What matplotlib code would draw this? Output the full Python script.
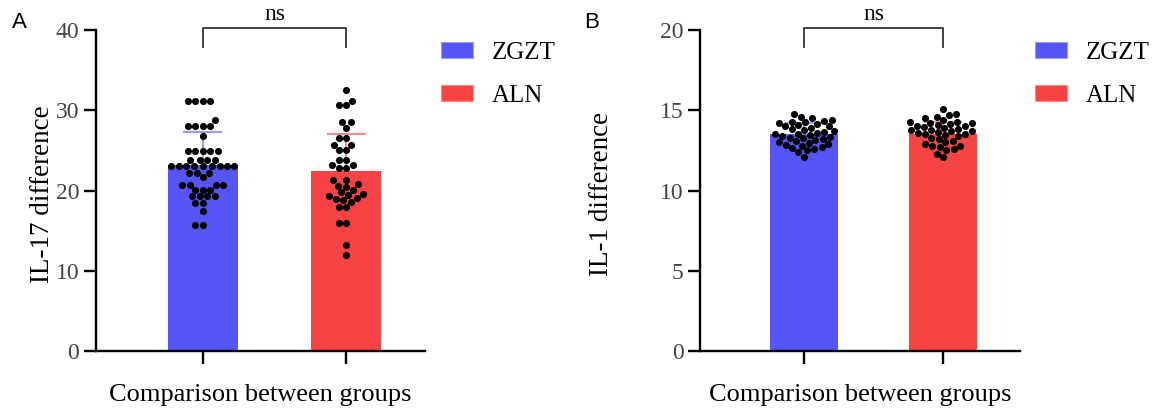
import numpy as np
import matplotlib
matplotlib.use("Agg")
import matplotlib.pyplot as plt
import seaborn as sns
from matplotlib.patches import Patch

groups = ["ZGZT", "ALN"]
colors = ["#5656F6", "#F74343"]
err_colors = ["#9A9AFA", "#FA8A8A"]

# panel A: IL-17 difference
il17_zgzt = [31.2, 31.2, 31.2, 31.2, 28.8, 28.1, 28.1, 28.1, 28.1, 26.8,
             24.9, 24.9, 24.9, 24.9, 24.9, 23.8, 23.8, 23.8, 23.8,
             23.0, 23.0, 23.0, 23.0, 23.0, 23.0, 23.0, 23.0, 23.0,
             22.2, 22.2, 22.2, 21.7, 20.7, 20.7, 20.7, 20.7, 20.1, 20.1, 20.1,
             19.3, 19.3, 19.3, 19.3, 18.5, 18.5, 17.4, 15.7, 15.7]
il17_aln = [32.5, 31.1, 30.6, 30.6, 28.5, 28.5, 27.8, 26.5, 26.5, 25.7, 25.7,
            25.0, 25.0, 23.8, 23.8, 23.2, 23.2, 22.8, 22.8, 21.3, 21.3,
            20.8, 20.6, 20.4, 20.1, 19.8, 19.6, 19.5, 19.3, 19.1, 19.0, 18.8, 18.6,
            18.0, 17.9, 15.9, 15.9, 13.2, 12.0]
il17_mean = [23.2, 22.4]
il17_sd = [4.1, 4.7]

# panel B: IL-1 difference
il1_zgzt = [14.8, 14.6, 14.5, 14.4, 14.35, 14.3, 14.25, 14.2, 14.15, 14.1,
            14.0, 14.0, 13.9, 13.85, 13.8, 13.7, 13.65, 13.6, 13.55, 13.5,
            13.45, 13.4, 13.35, 13.3, 13.25, 13.2, 13.15, 13.1, 13.0, 12.95,
            12.9, 12.85, 12.8, 12.7, 12.65, 12.6, 12.5, 12.4, 12.1]
il1_aln = [15.1, 14.8, 14.7, 14.6, 14.5, 14.4, 14.3, 14.25, 14.2, 14.2,
           14.15, 14.1, 14.05, 14.0, 13.95, 13.9, 13.85, 13.8, 13.75, 13.7,
           13.7, 13.65, 13.6, 13.55, 13.5, 13.45, 13.4, 13.3, 13.2, 13.1,
           13.0, 12.9, 12.8, 12.75, 12.7, 12.6, 12.5, 12.3, 12.1]
il1_mean = [13.5, 13.5]
il1_sd = [0.7, 0.8]

plt.rcParams["font.family"] = ["Liberation Serif", "DejaVu Serif"]

fig = plt.figure(figsize=(11.63, 4.12), dpi=100)


def draw_panel(ax, vals_a, vals_b, means, sds, ylim, yticks, ylabel, bracket, label_x):
    x = np.arange(len(groups))
    ax.bar(x, means, width=0.49, color=colors, zorder=1)
    for i in x:
        ax.plot([i, i], [means[i], means[i] + sds[i]], color=err_colors[i], lw=1.5, zorder=2)
        ax.plot([i - 0.13, i + 0.13], [means[i] + sds[i]] * 2, color=err_colors[i], lw=1.5, zorder=2)

    labels = [groups[0]] * len(vals_a) + [groups[1]] * len(vals_b)
    sns.swarmplot(x=labels, y=list(vals_a) + list(vals_b), order=groups, ax=ax,
                  color="black", size=5.1, zorder=3, warn_thresh=1.0)

    ax.set_xlim(-0.745, 1.55)
    ax.set_ylim(*ylim)
    ax.set_yticks(yticks)
    ax.set_xticks(x)
    ax.set_xticklabels([])
    for s in ["top", "right"]:
        ax.spines[s].set_visible(False)
    for s in ["left", "bottom"]:
        ax.spines[s].set_linewidth(1.7)
    ax.tick_params(axis="both", length=9, width=1.7, labelsize=17, labelcolor="#444444", pad=3)
    ax.set_ylabel(ylabel, fontsize=19.5)
    ax.yaxis.set_label_coords(label_x, 0.49)
    ax.set_xlabel("Comparison between groups", fontsize=19, labelpad=12)

    lo, hi = bracket
    ax.plot([0, 0, 1, 1], [lo, hi, hi, lo], color="#333333", lw=1.3, clip_on=False)
    ax.text(0.5, hi + (ylim[1] - ylim[0]) * 0.012, "ns", ha="center", va="bottom", fontsize=17)


ax_a = fig.add_axes([0.0825, 0.148, 0.283, 0.779])
draw_panel(ax_a, il17_zgzt, il17_aln, il17_mean, il17_sd, (0, 40), [0, 10, 20, 30, 40],
           "IL-17 difference", (37.9, 40.2), -0.125)

ax_b = fig.add_axes([0.602, 0.148, 0.275, 0.779])
draw_panel(ax_b, il1_zgzt, il1_aln, il1_mean, il1_sd, (0, 20), [0, 5, 10, 15, 20],
           "IL-1 difference", (18.95, 20.1), -0.27)

handles = [Patch(facecolor=c, edgecolor=e, lw=0.8) for c, e in zip(colors, err_colors)]
for xpos in [0.366, 0.877]:
    fig.legend(handles, groups, loc="upper left", bbox_to_anchor=(xpos, 0.935),
               frameon=False, fontsize=18, handlelength=1.3, handleheight=0.6,
               labelspacing=0.85, handletextpad=0.75, borderaxespad=0.2)

fig.text(0.01, 0.97, "A", fontsize=16, family="Liberation Sans", va="top")
fig.text(0.502, 0.97, "B", fontsize=16, family="Liberation Sans", va="top")

fig.savefig("out.png", dpi=100)
